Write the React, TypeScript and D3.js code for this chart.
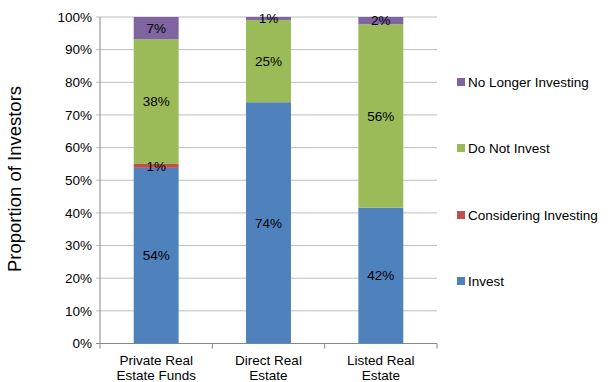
import React from "react";
import * as d3 from "d3";

const categories = ["Private Real Estate Funds", "Direct Real Estate", "Listed Real Estate"];
const categoryLines = [["Private Real", "Estate Funds"], ["Direct Real", "Estate"], ["Listed Real", "Estate"]];
const seriesNames = ["Invest", "Considering Investing", "Do Not Invest", "No Longer Investing"];
const invest = [53.8, 73.9, 41.6];
const considering = [1.2, 0, 0];
const doNotInvest = [38.2, 25.2, 56.2];
const noLonger = [6.8, 0.9, 2.2];
const colors = ["#4F81BD", "#C0504D", "#9BBB59", "#8064A2"];
const yTicks = [0, 10, 20, 30, 40, 50, 60, 70, 80, 90, 100];

const W = 608, H = 382;
const left = 100, right = 437, top = 17, bottom = 343.5;

export default function App() {
  const series = [invest, considering, doNotInvest, noLonger];
  const rows = categories.map((c, i) => {
    const r: any = { cat: c };
    seriesNames.forEach((s, j) => (r[s] = series[j][i]));
    return r;
  });
  const stacked = d3.stack().keys(seriesNames)(rows);
  const x = d3.scaleBand().domain(categories).range([left, right]).paddingInner(0.6).paddingOuter(0.3);
  const xOuter = d3.scaleBand().domain(categories).range([left, right]);
  const y = d3.scaleLinear().domain([0, 100]).range([bottom, top]);
  const font = "'Liberation Sans', Arial, sans-serif";
  const legendY = [281, 215, 148, 82];

  return (
    <svg width={W} height={H} style={{ position: "absolute", left: 0, top: 0, background: "#fff" }} fontFamily={font}>
      {yTicks.map((t) => (
        <g key={t}>
          <line x1={left - 4} x2={right} y1={y(t)} y2={y(t)} stroke={t === 0 ? "#878787" : "#BEBEBE"} strokeWidth={1} />
          <text x={left - 8} y={y(t)} dy="0.35em" textAnchor="end" fontSize={13.5} fill="#000">{t}%</text>
        </g>
      ))}
      <line x1={left} x2={left} y1={top} y2={bottom} stroke="#878787" />
      {[...categories.map((c) => xOuter(c)!), right].map((v, i) => (
        <line key={i} x1={v} x2={v} y1={bottom} y2={bottom + 5} stroke="#878787" />
      ))}
      {stacked.map((s, j) => (
        <g key={s.key}>
          {s.map((d, i) => (
            <rect key={i} x={x(categories[i])} width={x.bandwidth()} y={y(d[1])} height={Math.max(0, y(d[0]) - y(d[1]))} fill={colors[j]} />
          ))}
        </g>
      ))}
      {stacked.map((s, j) => (
        <g key={"l" + s.key}>
          {s.map((d, i) => {
            const v = d[1] - d[0];
            if (v <= 0) return null;
            return (
              <text key={i} x={x(categories[i])! + x.bandwidth() / 2} y={y((d[0] + d[1]) / 2)} dy="0.35em" textAnchor="middle" fontSize={13.5} fill="#000">
                {Math.round(v)}%
              </text>
            );
          })}
        </g>
      ))}
      {categoryLines.map((lines, i) => (
        <text key={i} x={xOuter(categories[i])! + xOuter.bandwidth() / 2} y={365} textAnchor="middle" fontSize={13.5} fill="#000">
          {lines.map((l, k) => (
            <tspan key={k} x={xOuter(categories[i])! + xOuter.bandwidth() / 2} dy={k === 0 ? 0 : 14.5}>{l}</tspan>
          ))}
        </text>
      ))}
      <text transform={`translate(21,179) rotate(-90)`} textAnchor="middle" fontSize={18.5} fill="#000">Proportion of Investors</text>
      {seriesNames.map((s, j) => (
        <g key={s}>
          <rect x={457} y={legendY[j] - 4} width={8} height={8} fill={colors[j]} />
          <text x={468} y={legendY[j]} dy="0.35em" fontSize={13.5} fill="#000">{s}</text>
        </g>
      ))}
    </svg>
  );
}
